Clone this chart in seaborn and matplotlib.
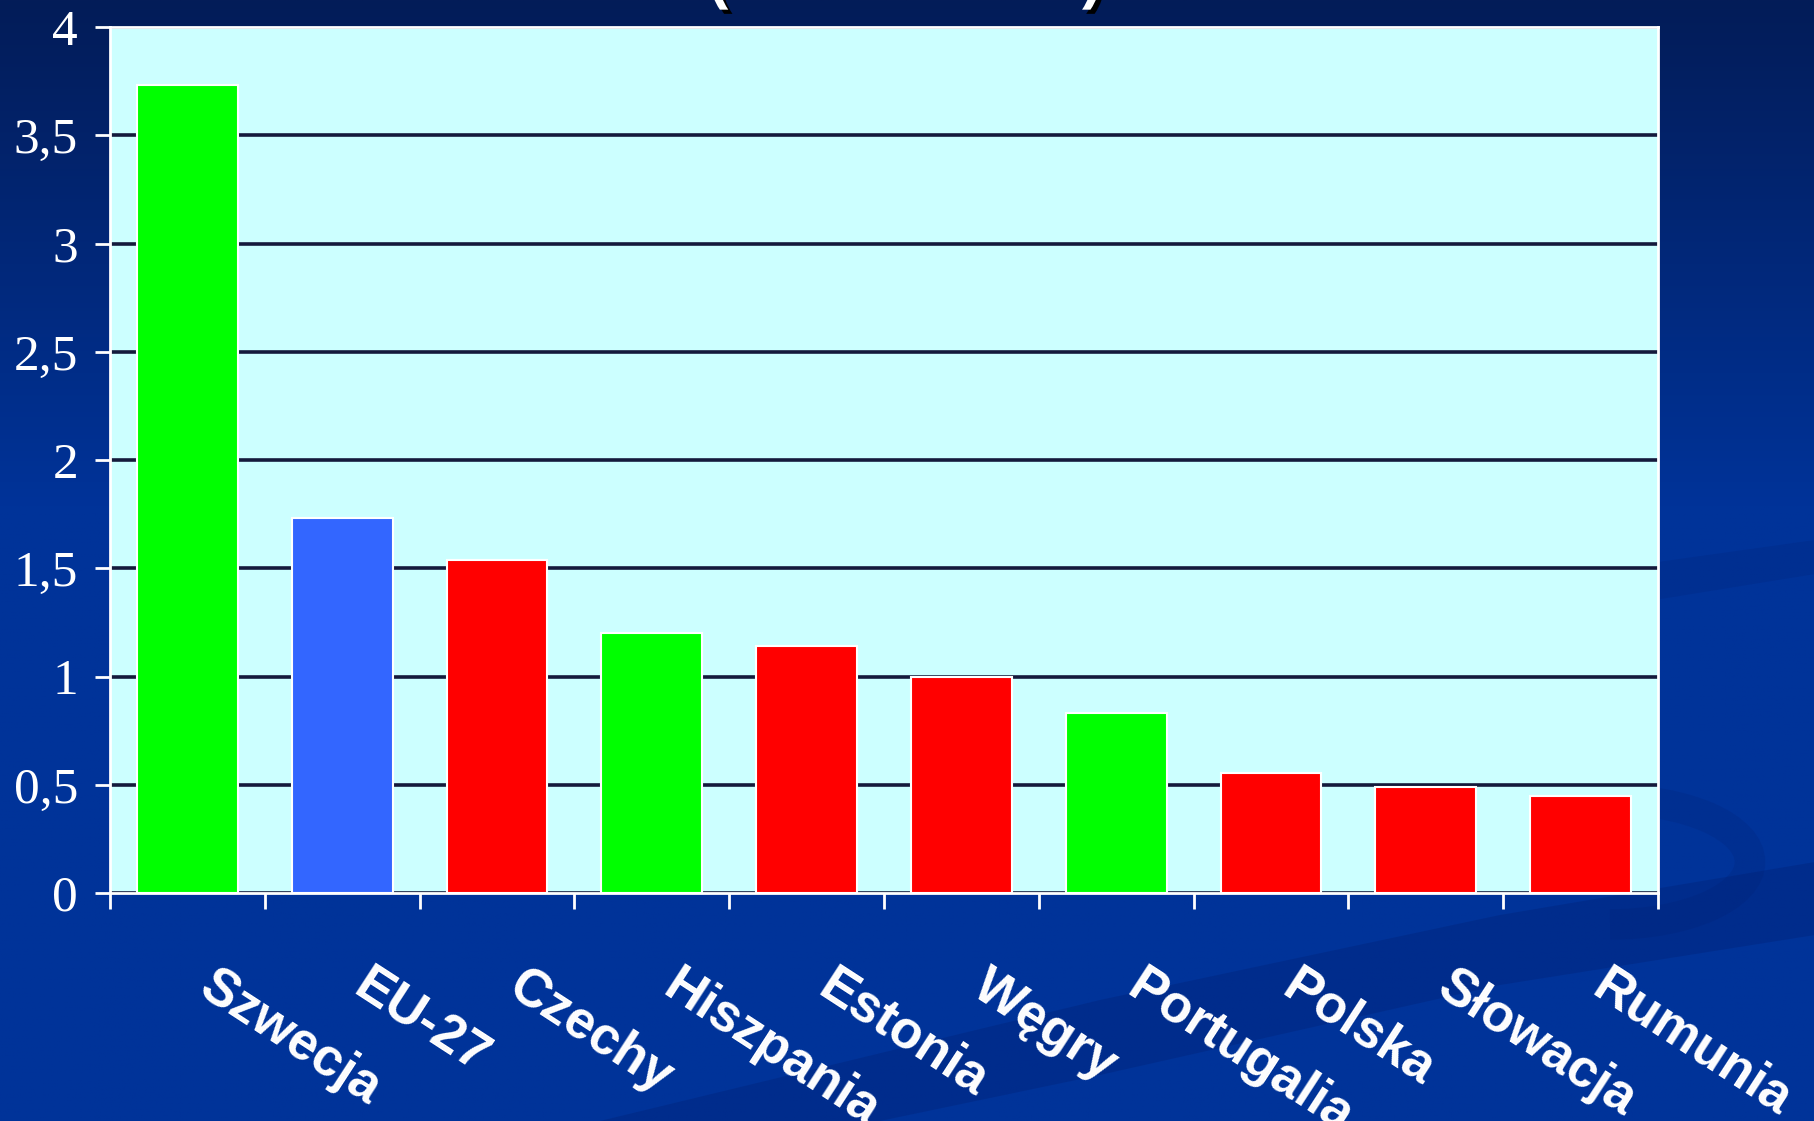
import numpy as np
import pandas as pd
import matplotlib
matplotlib.use("Agg")
import matplotlib.pyplot as plt
import matplotlib.patheffects as pe
from matplotlib.patches import Polygon, Arc
from matplotlib.transforms import ScaledTranslation
from matplotlib.ticker import FixedLocator
import seaborn as sns

# ---- data ----
countries = ["Szwecja", "EU-27", "Czechy", "Hiszpania", "Estonia",
             "Węgry", "Portugalia", "Polska", "Słowacja", "Rumunia"]
values = [3.73, 1.73, 1.54, 1.20, 1.14, 1.00, 0.83, 0.555, 0.49, 0.45]
bar_colors = ["#00ff00", "#3366ff", "#ff0000", "#00ff00", "#ff0000",
              "#ff0000", "#00ff00", "#ff0000", "#ff0000", "#ff0000"]
y_ticks = [0, 0.5, 1, 1.5, 2, 2.5, 3, 3.5, 4]
y_tick_labels = ["0", "0,5", "1", "1,5", "2", "2,5", "3", "3,5", "4"]

df = pd.DataFrame({"kraj": countries, "wartosc": values})

sns.set_theme(style="white")
plt.rcParams["font.family"] = ["Liberation Sans", "DejaVu Sans"]

W, H = 1815, 1121
fig = plt.figure(figsize=(W / 100, H / 100), dpi=100)

# background gradient
bg = fig.add_axes([0, 0, 1, 1], zorder=-10)
t = np.linspace(0, 1, 400)[:, None]
top = np.array(matplotlib.colors.to_rgb("#031c58"))
bot = np.array(matplotlib.colors.to_rgb("#003399"))
f = np.clip(t / 0.45, 0, 1)
grad = (top[None, None, :] * (1 - f[..., None]) + bot[None, None, :] * f[..., None])
grad = np.repeat(grad, 10, axis=1)
bg.imshow(grad, aspect="auto", extent=[0, W, H, 0], origin="upper")
bg.set_xlim(0, W); bg.set_ylim(H, 0)
bg.axis("off")
# faint decorative swooshes of the slide background
bg.add_patch(Polygon([(600, 1121), (1100, 1000), (1500, 915), (1815, 862),
                      (1815, 935), (1500, 985), (1100, 1075), (880, 1121)],
                     closed=True, facecolor="#001a66", alpha=0.25, edgecolor="none"))
bg.add_patch(Polygon([(1100, 640), (1815, 540), (1815, 574), (1100, 690)],
                     closed=True, facecolor="#001a66", alpha=0.15, edgecolor="none"))
bg.add_patch(Arc((1610, 862), 280, 125, theta1=-90, theta2=90,
                 color="#001a66", alpha=0.14, linewidth=22))

# title remnants (parentheses cut off at the top)
for ch, xp in [("(", 708), (")", 1082)]:
    fig.text(xp / W, 1 + 3 / H, ch, color="white", fontsize=44, fontweight="bold",
             ha="left", va="baseline",
             path_effects=[pe.withSimplePatchShadow(offset=(3, -3), shadow_rgbFace="black", alpha=1)])

L, R, T, B = 110, 1658, 27, 893
ax = fig.add_axes([L / W, 1 - B / H, (R - L) / W, (B - T) / H])
ax.set_facecolor("#ccffff")

sns.barplot(data=df, x="kraj", y="wartosc", hue="kraj", palette=bar_colors,
            legend=False, width=0.65, saturation=1, edgecolor="white",
            linewidth=1.5, ax=ax, zorder=3)

ax.set_ylim(0, 4)
ax.set_xlim(-0.5, len(countries) - 0.5)
ax.yaxis.set_major_locator(FixedLocator(y_ticks))
ax.set_yticklabels(y_tick_labels)
ax.grid(axis="y", color="#141a3c", linewidth=2.6, zorder=1)
ax.grid(axis="x", visible=False)
ax.set_axisbelow(True)
ax.set_xlabel("")
ax.set_ylabel("")

for s in ax.spines.values():
    s.set_visible(True)
    s.set_color("white")
    s.set_linewidth(2)

ax.tick_params(axis="y", colors="white", length=11, width=2, direction="out",
               pad=12, left=True)
for lab in ax.get_yticklabels():
    lab.set_fontfamily(["Liberation Serif", "DejaVu Serif"])
    lab.set_fontsize(37)
    lab.set_color("white")

# x: boundary ticks (minor), labels at centers (major)
ax.xaxis.set_minor_locator(FixedLocator(np.arange(-0.5, len(countries), 1.0)))
ax.tick_params(axis="x", which="minor", bottom=True, length=11.5, width=2,
               color="white", direction="out")
ax.tick_params(axis="x", which="major", bottom=True, length=0, pad=49,
               labelcolor="white")
ax.set_xticks(range(len(countries)))
ax.set_xticklabels(countries, rotation=-33, ha="left", va="top",
                   rotation_mode="anchor", fontsize=38, fontweight="bold",
                   color="white")
off = ScaledTranslation(30 / 100, 0, fig.dpi_scale_trans)
for lab in ax.get_xticklabels():
    lab.set_transform(lab.get_transform() + off)

fig.savefig("out.png", dpi=100)
